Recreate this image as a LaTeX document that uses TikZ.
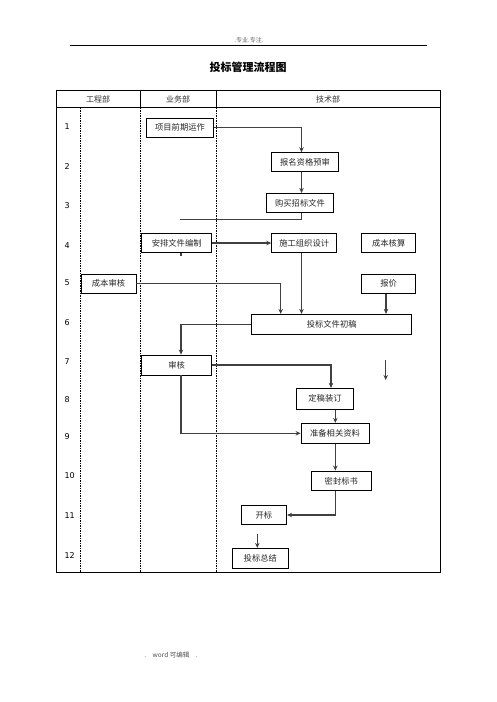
\documentclass[tikz,border=0pt]{standalone}
\usepackage{fontspec}
\setmainfont{Noto Sans CJK SC}
\newfontfamily\numfont{DejaVu Sans}
\usetikzlibrary{arrows.meta}
\begin{document}
\begin{tikzpicture}[x=1pt,y=-1pt,
  box/.style={draw=black,line width=0.8pt,inner sep=0pt,font=\fontsize{8.3}{10}\selectfont,text=black!85},
  conn/.style={draw=black!75,line width=1.1pt,-{Stealth[length=5pt,width=4.5pt]}},
  ln/.style={draw=black!75,line width=1.1pt},
  lane/.style={draw=black,line width=0.7pt,dash pattern=on 1.5pt off 1pt},
  hdr/.style={font=\fontsize{8}{10}\selectfont,text=black!80},
  num/.style={font=\numfont\fontsize{8}{10}\selectfont,text=black}]
\useasboundingbox (0,0) rectangle (496,702);
% page header / footer
\node[font=\fontsize{6}{7}\selectfont,text=black!60] (ph) at (249,40) {.专业.专注.};
\draw[line width=0.8pt] (70,45.7) -- (426.7,45.7);
\node[font=\fontsize{11}{13}\selectfont\bfseries] (title) at (248,67.7) {投标管理流程图};
\node[font=\fontsize{6.5}{8}\selectfont,text=black!70] (foot) at (171,655) {.\quad word 可编辑\quad .};
% table
\draw[line width=0.9pt] (56,90) rectangle (440,572.7);
\draw[line width=0.9pt] (56,107.7) -- (440,107.7);
\draw[line width=0.8pt] (140.7,90) -- (140.7,107.7);
\draw[line width=0.8pt] (216.7,90) -- (216.7,107.7);
\draw[lane] (80.7,107.7) -- (80.7,572.7);
\draw[lane] (140.7,107.7) -- (140.7,572.7);
\draw[lane] (216.7,107.7) -- (216.7,572.7);
\node[hdr] (h1) at (98,99) {工程部};
\node[hdr] (h2) at (178,99) {业务部};
\node[hdr] (h3) at (328,99) {技术部};
\foreach \n/\y in {1/126.7,2/167,3/206,4/245.7,5/283,6/322.7,7/361.7,8/399.3,9/436.7,10/476,11/516,12/555.7}
  \node[num,anchor=west] (r\n) at (61,\y) {\n};
% boxes
\node[box,minimum width=66.6pt,minimum height=19pt] (xm) at (180,127.8) {项目前期运作};
\node[box,minimum width=66.6pt,minimum height=18.6pt] (bm) at (305,162) {报名资格预审};
\node[box,minimum width=66.6pt,minimum height=19.4pt] (gm) at (300,203) {购买招标文件};
\node[box,minimum width=70pt,minimum height=19.4pt] (ap) at (176.7,243) {安排文件编制};
\node[box,minimum width=65pt,minimum height=19.4pt] (sg) at (304.2,243) {施工组织设计};
\node[box,minimum width=54pt,minimum height=19.4pt] (cb) at (388.7,243) {成本核算};
\node[box,minimum width=55pt,minimum height=19pt] (cs) at (108.5,283.8) {成本审核};
\node[box,minimum width=54pt,minimum height=19pt] (bj) at (388.7,283.8) {报价};
\node[box,minimum width=160pt,minimum height=20pt] (tc) at (331.7,324.3) {投标文件初稿};
\node[box,minimum width=70pt,minimum height=20pt] (sh) at (176.7,365) {审核};
\node[box,minimum width=56.6pt,minimum height=21pt] (dg) at (325,398.8) {定稿装订};
\node[box,minimum width=68pt,minimum height=20pt] (zb) at (335,433.3) {准备相关资料};
\node[box,minimum width=60.7pt,minimum height=19.7pt] (mf) at (341.3,480.8) {密封标书};
\node[box,minimum width=45.7pt,minimum height=18.6pt] (kb) at (263.8,515) {开标};
\node[box,minimum width=56pt,minimum height=20pt] (zj) at (260.3,558.3) {投标总结};
% lane x coordinates
\coordinate (xa) at (301.5,0);
\coordinate (xc) at (280.7,0);
\coordinate (xd) at (386,0);
\coordinate (xe) at (181,0);
\coordinate (xf) at (331,0);
\coordinate (xg) at (335.3,0);
\coordinate (xh) at (257.3,0);
\coordinate (c3) at (180,219.3);
\coordinate (fa1) at (385.7,360);
\coordinate (fa2) at (385.7,380);
\coordinate (fb1) at (257.3,534);
% connectors
\draw[conn] (xm.east) -| (bm.north -| xa);
\draw[conn] (bm.south -| xa) -- (gm.north -| xa);
\draw[ln] (gm.south -| xa) |- (c3);
\draw[conn] (ap.east) -- (sg.west);
\draw[ln] (ap.south -| xe) -- ++(0,3);
\draw[conn] (sg.south -| xa) -- (tc.north -| xa);
\draw[conn] (cs.east) -| (tc.north -| xc);
\draw[conn] (bj.south -| xd) -- (tc.north -| xd);
\draw[conn] (tc.west) -| (sh.north -| xe);
\draw[conn] (sh.east) -| (dg.north -| xf);
\draw[conn] (fa1) -- (fa2);
\draw[conn] (sh.south -| xe) |- (zb.west);
\draw[conn] (dg.south -| xg) -- (zb.north -| xg);
\draw[conn] (zb.south -| xg) -- (mf.north -| xg);
\draw[conn] (mf.south -| xg) |- (kb.east);
\draw[conn] (fb1) -- (zj.north -| xh);
\end{tikzpicture}
\end{document}
